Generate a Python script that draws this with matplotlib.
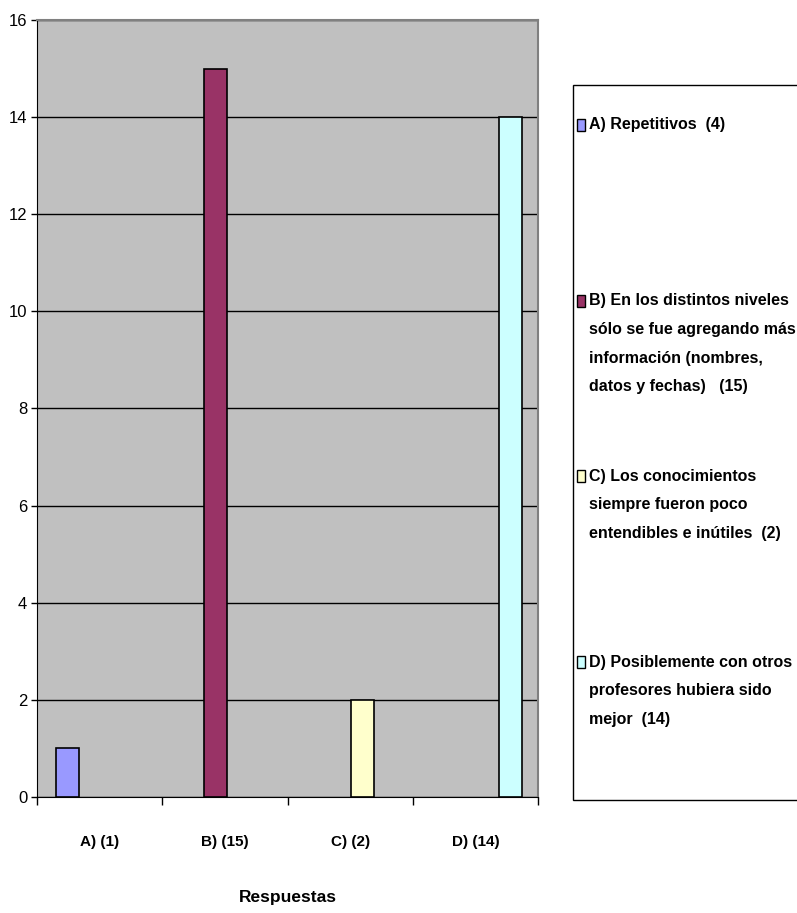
import numpy as np
import matplotlib
matplotlib.use('Agg')
import matplotlib.pyplot as plt
from matplotlib.patches import Rectangle

# data
categories = ['A) (1)', 'B) (15)', 'C) (2)', 'D) (14)']
counts = [1, 15, 2, 14]
legend_labels = [
    ['A) Repetitivos  (4)'],
    ['B) En los distintos niveles', 'sólo se fue agregando más',
     'información (nombres,', 'datos y fechas)   (15)'],
    ['C) Los conocimientos', 'siempre fueron poco', 'entendibles e inútiles  (2)'],
    ['D) Posiblemente con otros', 'profesores hubiera sido', 'mejor  (14)'],
]
colors = ['#9999FF', '#993366', '#FFFFCC', '#CCFFFF']
yticks = [0, 2, 4, 6, 8, 10, 12, 14, 16]

plt.rcParams['font.family'] = ['Liberation Sans Narrow', 'Liberation Sans', 'DejaVu Sans']

W, H = 797, 913
fig = plt.figure(figsize=(W / 100, H / 100), dpi=100)
ax = fig.add_axes([37 / W, 1 - 797 / H, (538 - 37) / W, (797 - 20) / H])
ax.set_facecolor('#C0C0C0')

# one series per category, Excel style offsets inside each group
width = 0.185
x = np.arange(len(categories)) + 0.5
offsets = (np.arange(len(categories)) - 1.5) * 0.18 + 0.012
for i in range(len(categories)):
    ax.bar(x[i] + offsets[i], counts[i], width=width, color=colors[i],
           edgecolor='black', linewidth=1.2, zorder=3)

ax.set_xlim(0, 4)
ax.set_ylim(0, 16)
ax.set_yticks(yticks)
ax.yaxis.grid(True, color='black', linewidth=1)
ax.set_axisbelow(True)
ax.tick_params(axis='y', length=4, width=1, pad=3, labelsize=12)

ax.set_xticks(np.arange(5))
ax.set_xticklabels([])
ax.set_xticks(x, minor=True)
ax.set_xticklabels(categories, minor=True, fontsize=11, fontweight='bold')
ax.tick_params(axis='x', which='major', length=6, width=1)
ax.tick_params(axis='x', which='minor', length=0, pad=27)

ax.set_xlabel('Respuestas', fontsize=12.5, fontweight='bold')
ax.xaxis.set_label_coords(0.5, (797 - 897) / 777)
ax.xaxis.label.set_va('center')

for s in ['left', 'bottom']:
    ax.spines[s].set_color('black')
for s in ['top', 'right']:
    ax.spines[s].set_color('#808080')
    ax.spines[s].set_linewidth(1.5)

# legend box with manual entries, one text per line
fig.patches.append(Rectangle((573 / W, 1 - 800 / H), 240 / W, (800 - 85) / H,
                             transform=fig.transFigure, facecolor='white',
                             edgecolor='black', linewidth=1))
first_line = [125, 301, 476, 662]
pitch = 28.5
for lines, col, y0 in zip(legend_labels, colors, first_line):
    fig.patches.append(Rectangle((577 / W, 1 - (y0 + 6) / H), 8 / W, 12 / H,
                                 transform=fig.transFigure, facecolor=col,
                                 edgecolor='black', linewidth=1))
    for k, line in enumerate(lines):
        fig.text(589 / W, 1 - (y0 + k * pitch) / H, line, fontsize=11.5,
                 fontweight='bold', va='center', ha='left')

fig.savefig('out.png', dpi=100)
